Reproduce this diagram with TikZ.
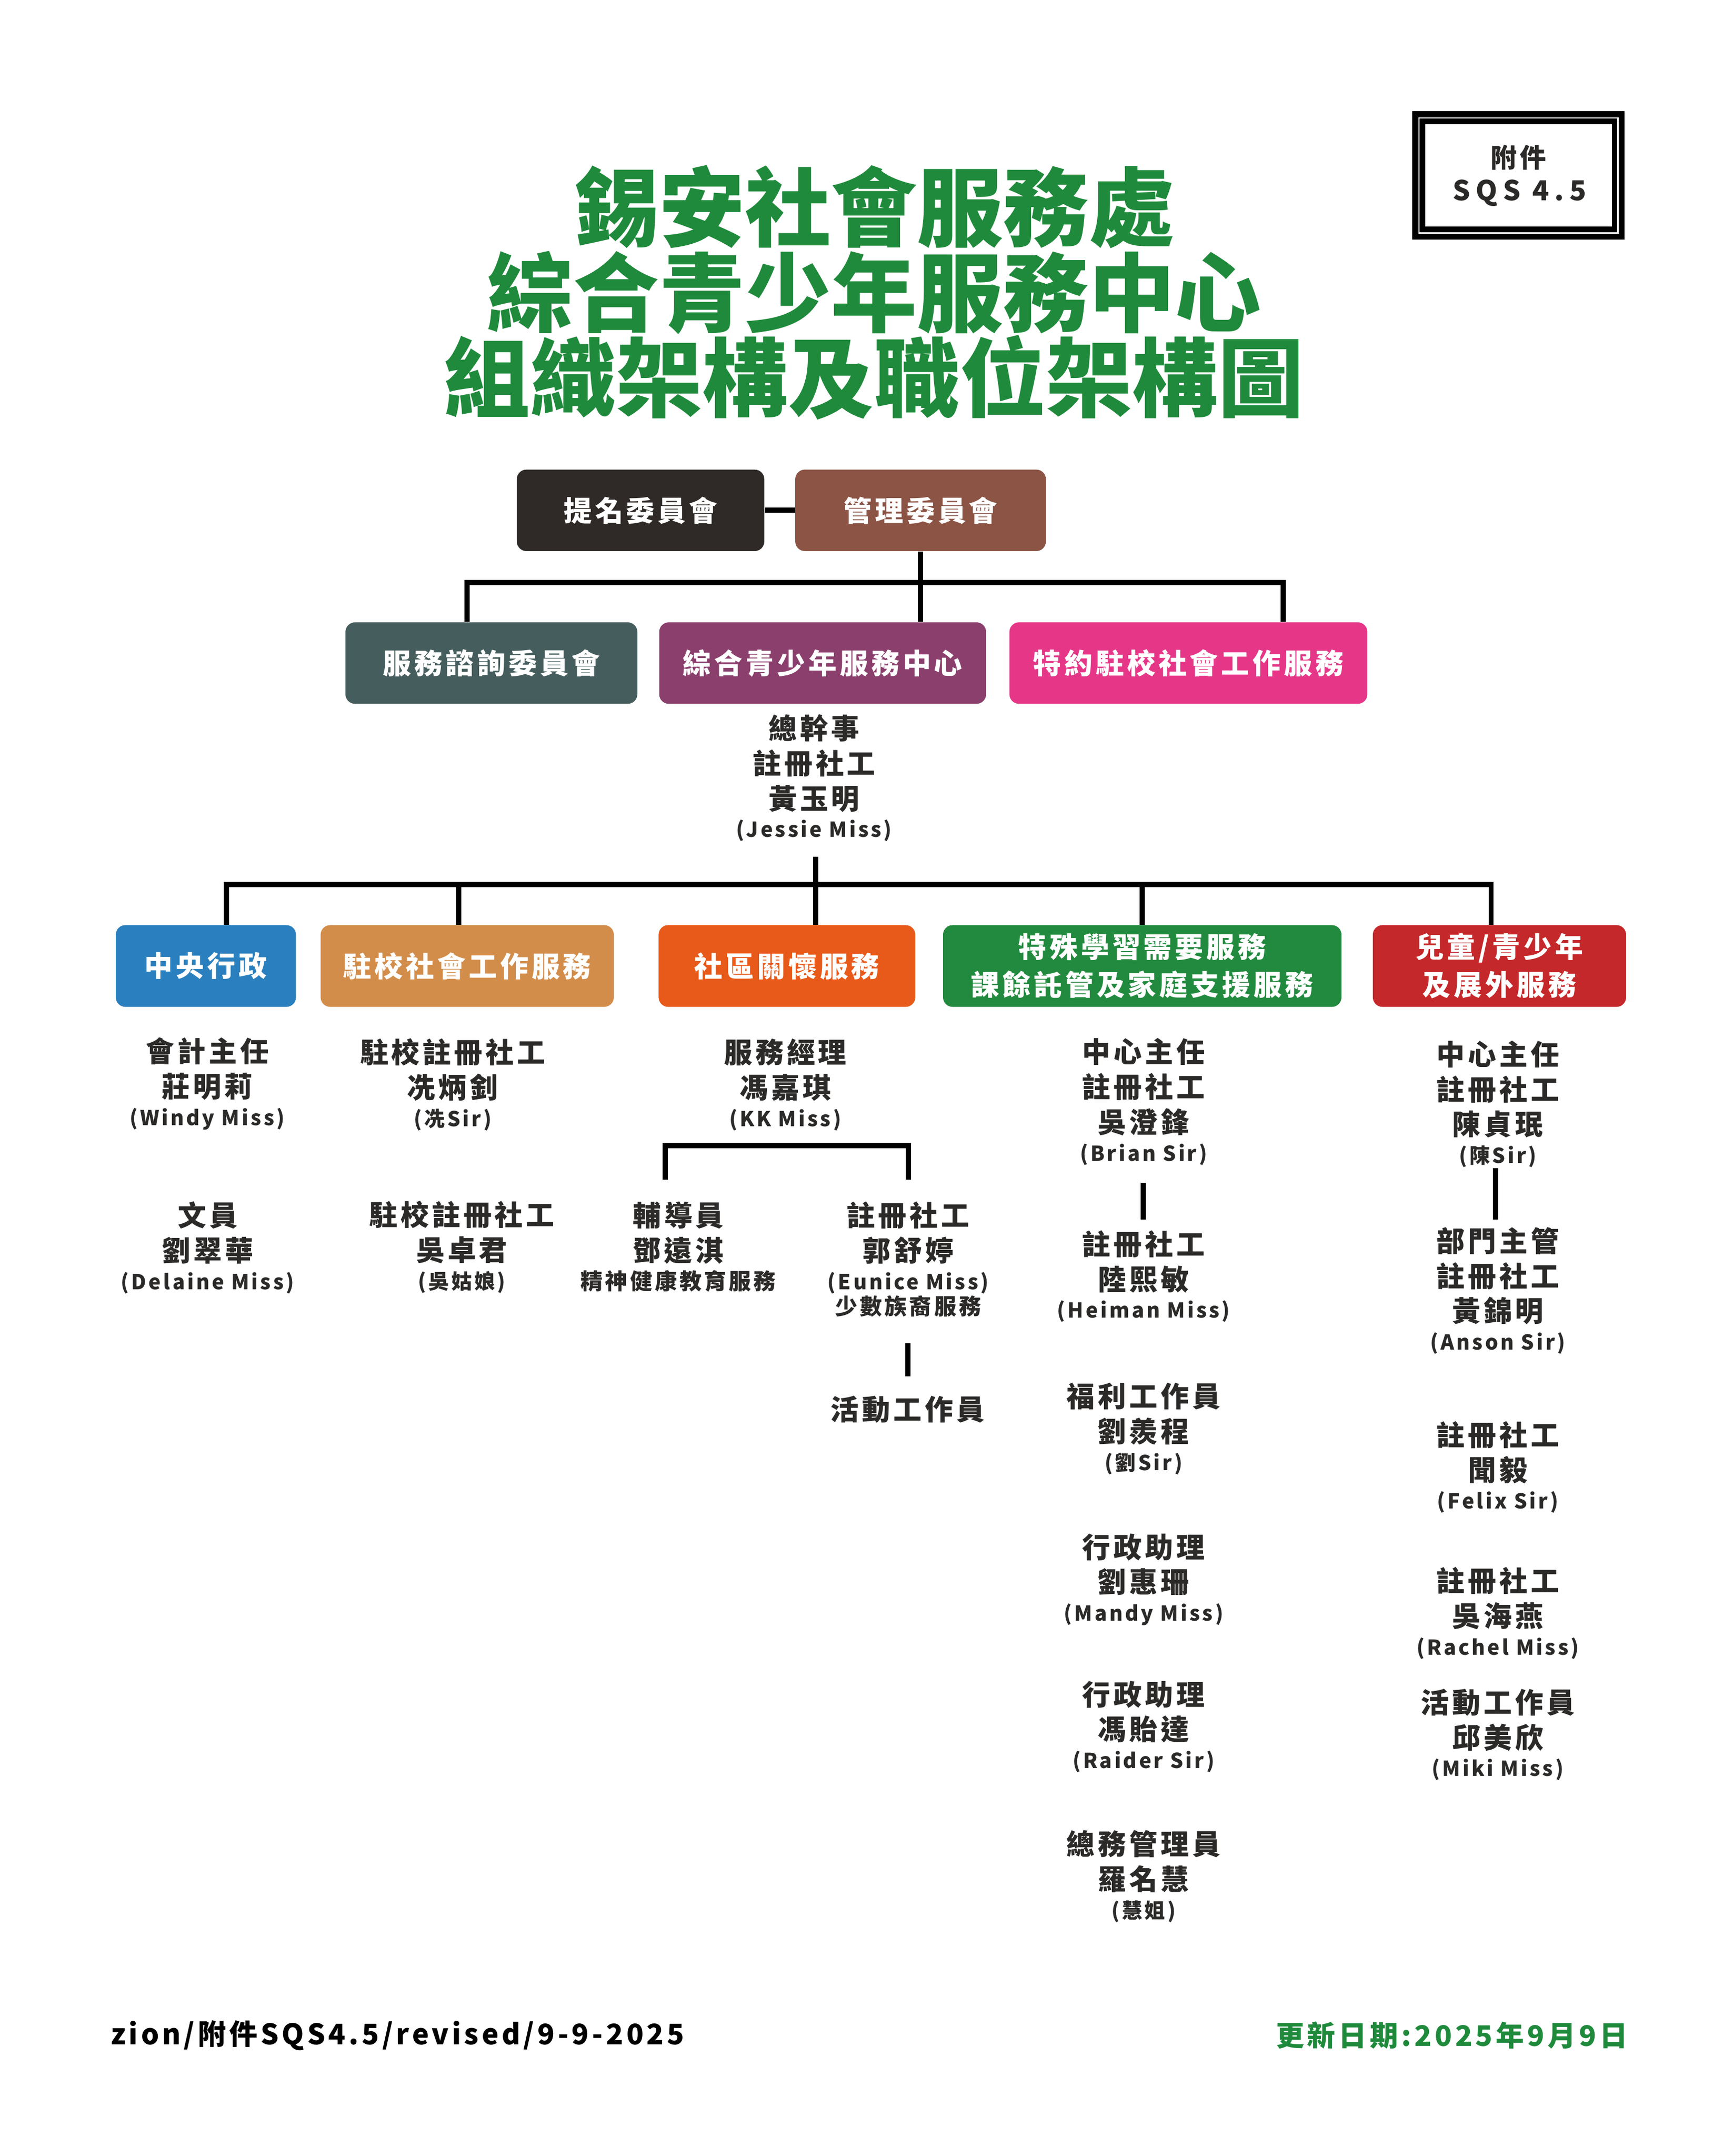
\documentclass[tikz,border=0pt]{standalone}
\usepackage{fontspec}
\setmainfont{Noto Sans CJK TC}[LetterSpace=11]
\newfontfamily\titlefont{Noto Sans CJK TC}
\newfontfamily\sqsfont{Noto Sans CJK TC}[LetterSpace=20]
\definecolor{txt}{HTML}{2B2A28}
\definecolor{green}{HTML}{1F8A3B}
\definecolor{cNom}{HTML}{2F2A27}
\definecolor{cMgmt}{HTML}{8B5445}
\definecolor{cAdv}{HTML}{455E5D}
\definecolor{cCtr}{HTML}{8B3F6D}
\definecolor{cSch}{HTML}{E63688}
\definecolor{cCen}{HTML}{2A80BE}
\definecolor{cSsw}{HTML}{D38D4A}
\definecolor{cCom}{HTML}{E85A1A}
\definecolor{cSen}{HTML}{228A3E}
\definecolor{cChy}{HTML}{C5282A}
\newcommand\bodyf{\fontsize{20.6}{25.5}\selectfont\bfseries}
\newcommand\enf{\fontsize{15}{18}\selectfont\bfseries}
\newcommand\smf{\fontsize{16.2}{20}\selectfont\bfseries}
\newcommand\en[1]{{\enf #1}}
\newcommand\sm[1]{{\smf #1}}
\begin{document}
\begin{tikzpicture}[x=1pt,y=-1pt,
  box/.style={rectangle, rounded corners=7pt, inner sep=0pt, text=white, font=\bodyf, align=center},
  ptxt/.style={anchor=north, inner sep=0pt, align=center, text=txt, font=\bodyf},
  conn/.style={draw=black, line width=3.8pt, line join=miter},
  ttl/.style={inner sep=0pt, text=green, font=\titlefont\fontsize{62.6}{62}\selectfont\bfseries},
  foot/.style={inner sep=0pt, font=\fontsize{20.6}{24}\selectfont\bfseries}]
\useasboundingbox (0,0) rectangle (1261.8,1569.5);
\fill[white] (0,0) rectangle (1261.8,1569.5);

% title
\node[ttl] (t1) at (636.5,150.6) {錫安社會服務處};
\node[ttl] (t2) at (636.5,213) {綜合青少年服務中心};
\node[ttl] (t3) at (636.5,274.7) {組織架構及職位架構圖};

% SQS frame
\fill[black] (1028.4,81) rectangle (1183,174.5);
\fill[white] (1032.85,85.45) rectangle (1178.55,170.05);
\fill[black] (1033.75,86.35) rectangle (1177.65,169.15);
\fill[white] (1037.85,90.45) rectangle (1173.55,165.05);
\node[inner sep=0pt, text=txt, font=\fontsize{19.2}{22}\selectfont\bfseries] (sq1) at (1105.7,114.5) {附件};
\node[inner sep=0pt, text=txt, font=\sqsfont\fontsize{20}{22}\selectfont\bfseries] (sq2) at (1106.5,140.5) {SQS 4.5};

% boxes
\node[box, fill=cNom, minimum width=180.2pt, minimum height=59.3pt] (nom) at (466.4,371.5) {提名委員會};
\node[box, fill=cMgmt, minimum width=182.5pt, minimum height=59.3pt] (mgmt) at (670.3,371.5) {管理委員會};
\node[box, fill=cAdv, minimum width=212.5pt, minimum height=59.3pt] (adv) at (357.8,482.7) {服務諮詢委員會};
\node[box, fill=cCtr, minimum width=238pt, minimum height=59.3pt] (ctr) at (599,482.7) {綜合青少年服務中心};
\node[box, fill=cSch, minimum width=260.6pt, minimum height=59.3pt] (sch) at (865.3,482.7) {特約駐校社會工作服務};
\node[box, fill=cCen, minimum width=131.2pt, minimum height=59.5pt] (cen) at (149.9,703.2) {中央行政};
\node[box, fill=cSsw, minimum width=213.5pt, minimum height=59.5pt] (ssw) at (340.2,703.2) {駐校社會工作服務};
\node[box, fill=cCom, minimum width=186.9pt, minimum height=59.5pt] (com) at (573,703.2) {社區關懷服務};
\node[box, fill=cSen, minimum width=290.1pt, minimum height=59.5pt, font=\fontsize{20.6}{27.4}\selectfont\bfseries] (sen) at (831.7,703.2) {特殊學習需要服務\\課餘託管及家庭支援服務};
\node[box, fill=cChy, minimum width=184.4pt, minimum height=59.5pt, font=\fontsize{20.6}{27.4}\selectfont\bfseries] (chy) at (1091.8,703.2) {兒童/青少年\\及展外服務};

% people
\node[ptxt] (G) at (592.8,519.9) {總幹事\\註冊社工\\黃玉明\\[-5pt]\en{(Jessie Miss)}};
\node[ptxt] (A1) at (150.9,755.2) {會計主任\\莊明莉\\[-5pt]\en{(Windy Miss)}};
\node[ptxt] (A2) at (151.2,874.6) {文員\\劉翠華\\[-5pt]\en{(Delaine Miss)}};
\node[ptxt] (B1) at (329.7,755.8) {駐校註冊社工\\冼炳釗\\[-5pt]\en{(冼Sir)}};
\node[ptxt] (B2) at (336.3,874.2) {駐校註冊社工\\吳卓君\\[-5pt]\en{(吳姑娘)}};
\node[ptxt] (C1) at (571.8,756) {服務經理\\馮嘉琪\\[-5pt]\en{(KK Miss)}};
\node[ptxt] (C2) at (493.9,874.6) {輔導員\\鄧遠淇\\[-5pt]\sm{精神健康教育服務}};
\node[ptxt] (C3) at (661.3,874.6) {註冊社工\\郭舒婷\\[-5pt]\en{(Eunice Miss)}\\[-7pt]\sm{少數族裔服務}};
\node[ptxt] (C4) at (661,1016) {活動工作員};
\node[ptxt] (D1) at (832.7,755.7) {中心主任\\註冊社工\\吳澄鋒\\[-5pt]\en{(Brian Sir)}};
\node[ptxt] (D2) at (832.7,895.5) {註冊社工\\陸熙敏\\[-5pt]\en{(Heiman Miss)}};
\node[ptxt] (D3) at (832.7,1006.6) {福利工作員\\劉羨程\\[-5pt]\en{(劉Sir)}};
\node[ptxt] (D4) at (832.7,1116.2) {行政助理\\劉惠珊\\[-5pt]\en{(Mandy Miss)}};
\node[ptxt] (D5) at (832.7,1223.4) {行政助理\\馮貽達\\[-5pt]\en{(Raider Sir)}};
\node[ptxt] (D6) at (832.7,1332.2) {總務管理員\\羅名慧\\[-5pt]\en{(慧姐)}};
\node[ptxt] (E1) at (1090.6,757.4) {中心主任\\註冊社工\\陳貞珉\\[-5pt]\en{(陳Sir)}};
\node[ptxt] (E2) at (1090.6,893.2) {部門主管\\註冊社工\\黃錦明\\[-5pt]\en{(Anson Sir)}};
\node[ptxt] (E3) at (1090.6,1034.4) {註冊社工\\聞毅\\[-5pt]\en{(Felix Sir)}};
\node[ptxt] (E4) at (1090.6,1140.6) {註冊社工\\吳海燕\\[-5pt]\en{(Rachel Miss)}};
\node[ptxt] (E5) at (1090.6,1229.2) {活動工作員\\邱美欣\\[-5pt]\en{(Miki Miss)}};

% connectors
\draw[conn] (nom.east) -- (mgmt.west);
\draw[conn] (mgmt.south) -- (mgmt.south |- ctr.north);
\coordinate (b1L) at (340,424);
\coordinate (b1R) at (934.4,424);
\draw[conn] (b1L |- adv.north) -- (b1L) -- (b1R) -- (b1R |- sch.north);
\coordinate (gtop) at (594,623.7);
\draw[conn] (gtop) -- (gtop |- com.north);
\coordinate (b2L) at (164.8,644);
\coordinate (b2R) at (1085.7,644);
\draw[conn] (b2L |- cen.north) -- (b2L) -- (b2R) -- (b2R |- chy.north);
\coordinate (b2s) at (334,644);
\draw[conn] (b2s) -- (b2s |- ssw.north);
\draw[conn] (sen.north |- b2L) -- (sen.north);
\coordinate (kL) at (484.5,858.7);
\coordinate (kR) at (661.5,858.7);
\coordinate (kT) at (0,834);
\draw[conn] (kL) -- (kL |- kT) -- (kR |- kT) -- (kR);
\coordinate (cv1) at (661,978);
\coordinate (cv2) at (661,1002);
\draw[conn] (cv1) -- (cv2);
\coordinate (dv1) at (832.5,861);
\coordinate (dv2) at (832.5,887.8);
\draw[conn] (dv1) -- (dv2);
\coordinate (ev1) at (1089,850.5);
\coordinate (ev2) at (1089,887.8);
\draw[conn] (ev1) -- (ev2);

% footer
\node[foot, anchor=west, text=black] (f1) at (80.4,1481.6) {zion/附件SQS4.5/revised/9-9-2025};
\node[foot, anchor=east, text=green] (f2) at (1185.4,1481.6) {更新日期:2025年9月9日};
\end{tikzpicture}
\end{document}
